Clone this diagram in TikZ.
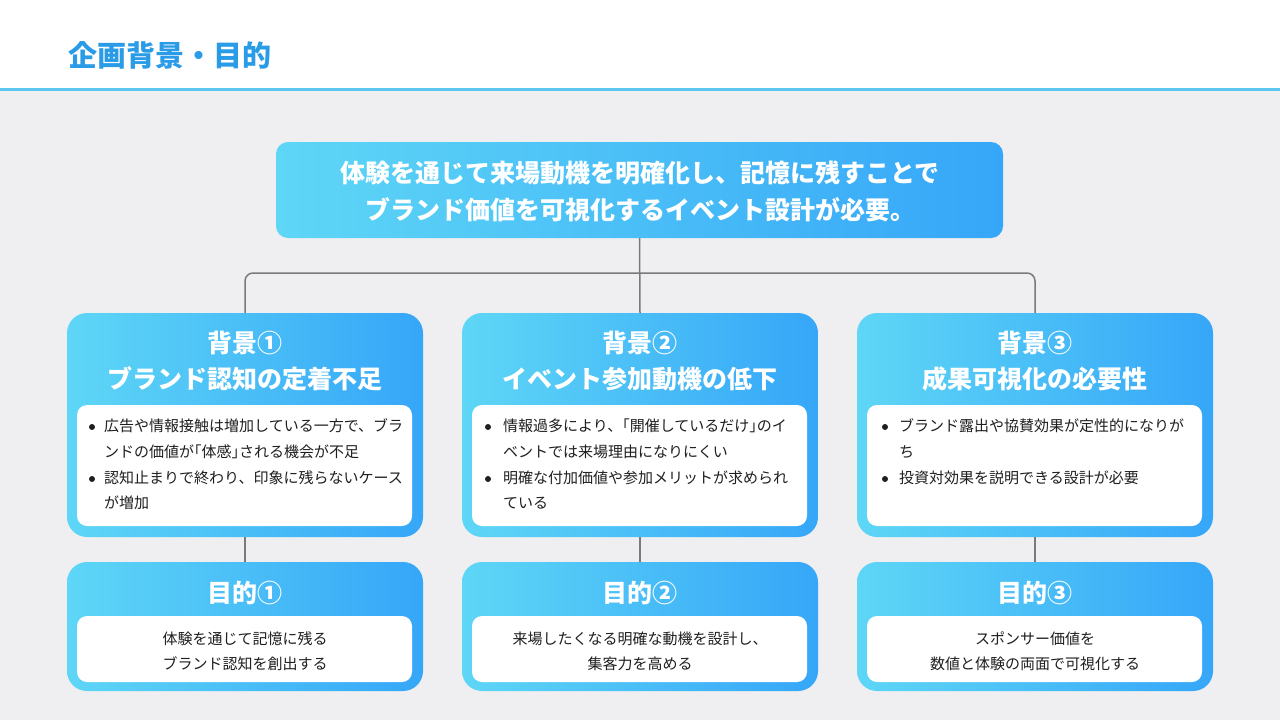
\documentclass[tikz,border=0pt]{standalone}
\usepackage{fontspec}
\setmainfont{Noto Sans CJK JP}
\definecolor{gl}{HTML}{5ED6F6}
\definecolor{gr}{HTML}{36A6F8}
\definecolor{bggray}{HTML}{EFEFF1}
\definecolor{hdr}{HTML}{5CC6F0}
\definecolor{ttl}{HTML}{2A9BE6}
\definecolor{txt}{HTML}{1F1F1F}
\definecolor{conncol}{HTML}{7A7A7A}
\begin{document}
\begin{tikzpicture}[x=1pt,y=-1pt,
  grad/.style={left color=gl, right color=gr, draw=none},
  bgbox/.style={grad, rounded corners=20pt, minimum width=356pt, minimum height=224pt, inner sep=0pt, outer sep=0pt},
  pbox/.style={grad, rounded corners=20pt, minimum width=356pt, minimum height=129pt, inner sep=0pt, outer sep=0pt},
  wbox/.style={fill=white, draw=none, rounded corners=10pt, minimum width=335pt, minimum height=121pt, inner sep=0pt, outer sep=0pt},
  pwbox/.style={fill=white, draw=none, rounded corners=10pt, minimum width=335pt, minimum height=66pt, inner sep=0pt, outer sep=0pt},
  conn/.style={draw=conncol, line width=1.5pt},
  htitle/.style={text=white, font=\fontsize{25}{29}\selectfont\bfseries, inner sep=0pt, anchor=base},
  btxt/.style={text=txt, font=\fontsize{15}{26}\selectfont, inner sep=0pt, anchor=base west},
  ptxt/.style={text=txt, font=\fontsize{15}{26}\selectfont, inner sep=0pt, anchor=base},
  dot/.style={circle, fill=txt, minimum size=6pt, inner sep=0pt}
]
\useasboundingbox (0,0) rectangle (1280,720);
\fill[white] (0,0) rectangle (1280,89);
\fill[bggray] (0,91) rectangle (1280,720);
\fill[hdr] (0,88) rectangle (1280,91);
\node[text=ttl, font=\fontsize{29}{33}\selectfont\bfseries, inner sep=0pt, anchor=base west] (title) at (68,66) {企画背景・目的};

% top box
\node[grad, rounded corners=12pt, minimum width=727pt, minimum height=96pt, inner sep=0pt, outer sep=0pt] (top) at (639.5,190) {};
\node[htitle] (topa) at (640,182.5) {体験を通じて来場動機を明確化し、記憶に残すことで};
\node[htitle] (topb) at (640,219.5) {ブランド価値を可視化するイベント設計が必要。};

% background boxes
\node[bgbox] (b1) at (245,425) {};
\node[bgbox] (b2) at (640,425) {};
\node[bgbox] (b3) at (1035,425) {};
\node[pbox] (p1) at (245,626.5) {};
\node[pbox] (p2) at (640,626.5) {};
\node[pbox] (p3) at (1035,626.5) {};

% connectors
\coordinate (jn) at (640,273);
\draw[conn] (top.south) -- (b2.north);
\draw[conn, rounded corners=8pt] (b1.north) |- (jn) -| (b3.north);
\draw[conn] (b1.south) -- (p1.north);
\draw[conn] (b2.south) -- (p2.north);
\draw[conn] (b3.south) -- (p3.north);

% white inner boxes
\node[wbox] (w1) at (244.5,465.5) {};
\node[wbox] (w2) at (639.5,465.5) {};
\node[wbox] (w3) at (1034.5,465.5) {};
\node[pwbox] (pw1) at (244.5,649) {};
\node[pwbox] (pw2) at (639.5,649) {};
\node[pwbox] (pw3) at (1034.5,649) {};

% headings
\node[htitle] (h1a) at (245,352.5) {背景①};
\node[htitle] (h1b) at (245,388.5) {ブランド認知の定着不足};
\node[htitle] (h2a) at (640,352.5) {背景②};
\node[htitle] (h2b) at (640,388.5) {イベント参加動機の低下};
\node[htitle] (h3a) at (1035,352.5) {背景③};
\node[htitle] (h3b) at (1035,388.5) {成果可視化の必要性};
\node[htitle] (g1) at (245,602.5) {目的①};
\node[htitle] (g2) at (640,602.5) {目的②};
\node[htitle] (g3) at (1035,602.5) {目的③};

% bullets column 1
\node[dot] (d1a) at (92,427) {};
\node[btxt] (t1a) at (104,431.7) {広告や情報接触は増加している一方で、ブラ};
\node[btxt] (t1b) at (104,457.7) {ンドの価値が｢体感｣される機会が不足};
\node[dot] (d1b) at (92,479) {};
\node[btxt] (t1c) at (104,483.7) {認知止まりで終わり、印象に残らないケース};
\node[btxt] (t1d) at (104,508.7) {が増加};

% bullets column 2
\node[dot] (d2a) at (488,427) {};
\node[btxt] (t2a) at (503,431.7) {情報過多により、｢開催しているだけ｣のイ};
\node[btxt] (t2b) at (503,457.7) {ベントでは来場理由になりにくい};
\node[dot] (d2b) at (488,479) {};
\node[btxt] (t2c) at (503,483.7) {明確な付加価値や参加メリットが求められ};
\node[btxt] (t2d) at (503,508.7) {ている};

% bullets column 3
\node[dot] (d3a) at (885,427) {};
\node[btxt] (t3a) at (899,431.7) {ブランド露出や協賛効果が定性的になりが};
\node[btxt] (t3b) at (899,457.7) {ち};
\node[dot] (d3b) at (885,479) {};
\node[btxt] (t3c) at (899,483.7) {投資対効果を説明できる設計が必要};

% purpose texts
\node[ptxt] (q1a) at (245,644.7) {体験を通じて記憶に残る};
\node[ptxt] (q1b) at (245,669.7) {ブランド認知を創出する};
\node[ptxt] (q2a) at (640,644.7) {来場したくなる明確な動機を設計し、};
\node[ptxt] (q2b) at (640,669.7) {集客力を高める};
\node[ptxt] (q3a) at (1035,644.7) {スポンサー価値を};
\node[ptxt] (q3b) at (1035,669.7) {数値と体験の両面で可視化する};
\end{tikzpicture}
\end{document}
